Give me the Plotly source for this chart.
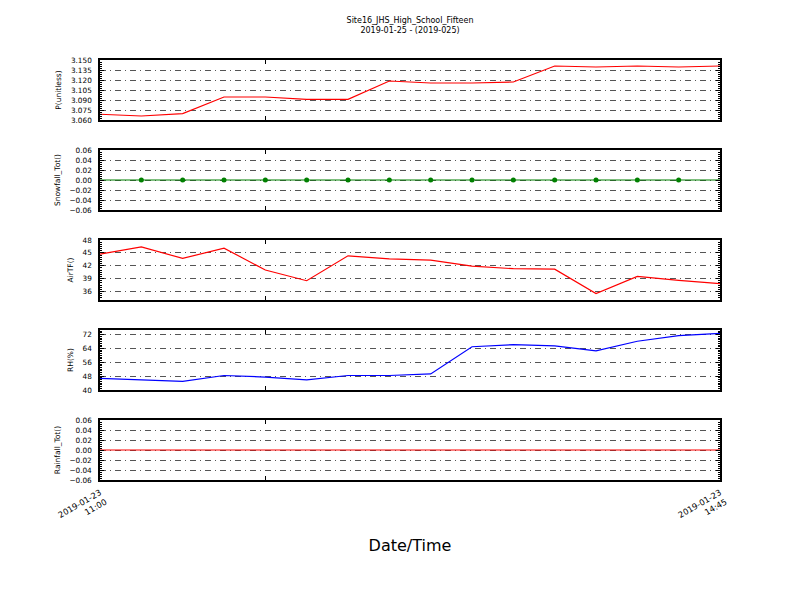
import plotly.graph_objects as go
from plotly.subplots import make_subplots

times = ["2019-01-23 11:00", "2019-01-23 11:15", "2019-01-23 11:30", "2019-01-23 11:45",
         "2019-01-23 12:00", "2019-01-23 12:15", "2019-01-23 12:30", "2019-01-23 12:45",
         "2019-01-23 13:00", "2019-01-23 13:15", "2019-01-23 13:30", "2019-01-23 13:45",
         "2019-01-23 14:00", "2019-01-23 14:15", "2019-01-23 14:30", "2019-01-23 14:45"]
pressure = [3.0686, 3.066, 3.0695, 3.0945, 3.0945, 3.091, 3.091, 3.1185,
            3.1155, 3.1155, 3.117, 3.141, 3.1395, 3.141, 3.1395, 3.141]
snowfall = [0.0] * 16
airtf = [44.7, 46.4, 43.7, 46.1, 41.0, 38.5, 44.3, 43.6,
         43.3, 41.9, 41.3, 41.2, 35.5, 39.5, 38.6, 37.8]
rh = [46.7, 45.8, 45.0, 48.4, 47.5, 45.8, 48.4, 48.4,
      49.3, 65.0, 66.2, 65.5, 62.6, 68.2, 71.4, 72.8]
rainfall = [0.0] * 16

ylabels = ["P(unitless)", "Snowfall_Tot()", "AirTF()", "RH(%)", "Rainfall_Tot()"]
yticks = [
    [3.060, 3.075, 3.090, 3.105, 3.120, 3.135, 3.150],
    [-0.06, -0.04, -0.02, 0.00, 0.02, 0.04, 0.06],
    [36, 39, 42, 45, 48],
    [40, 48, 56, 64, 72],
    [-0.06, -0.04, -0.02, 0.00, 0.02, 0.04, 0.06],
]
yticktext = [
    ["3.060", "3.075", "3.090", "3.105", "3.120", "3.135", "3.150"],
    ["\u22120.06", "\u22120.04", "\u22120.02", "0.00", "0.02", "0.04", "0.06"],
    ["36", "39", "42", "45", "48"],
    ["40", "48", "56", "64", "72"],
    ["\u22120.06", "\u22120.04", "\u22120.02", "0.00", "0.02", "0.04", "0.06"],
]
yranges = [[3.06, 3.15], [-0.06, 0.06], [34, 48], [40, 74.7], [-0.06, 0.06]]
minor_dt = [0.003, 0.004, 0.5, 1, 0.004]

xtickvals = ["2019-01-23 11:00", "2019-01-23 12:00", "2019-01-23 14:45"]
xticktext = ["2019-01-23<br>11:00", "", "2019-01-23<br>14:45"]

fig = make_subplots(rows=5, cols=1, shared_xaxes=False, vertical_spacing=30 / 420)

font = "DejaVu Sans, Arial, sans-serif"

fig.add_trace(go.Scatter(x=times, y=pressure, mode="lines",
                         line=dict(color="red", width=1.2)), row=1, col=1)
fig.add_trace(go.Scatter(x=times, y=snowfall, mode="lines",
                         line=dict(color="green", width=1.2)), row=2, col=1)
fig.add_trace(go.Scatter(x=times[1:-1], y=snowfall[1:-1], mode="markers",
                         marker=dict(color="green", size=5)), row=2, col=1)
fig.add_trace(go.Scatter(x=times, y=airtf, mode="lines",
                         line=dict(color="red", width=1.2)), row=3, col=1)
fig.add_trace(go.Scatter(x=times, y=rh, mode="lines",
                         line=dict(color="blue", width=1.2)), row=4, col=1)
fig.add_trace(go.Scatter(x=times, y=rainfall, mode="lines",
                         line=dict(color="red", width=1.2)), row=5, col=1)

for i in range(5):
    r = i + 1
    fig.update_yaxes(
        row=r, col=1,
        range=yranges[i], tickvals=yticks[i], ticktext=yticktext[i],
        showgrid=True, gridcolor="#555555", griddash="6px,4px,1px,4px", gridwidth=0.7,
        zeroline=False, showline=True, linecolor="black", linewidth=1.5,
        mirror="allticks", ticks="inside", ticklen=4, tickcolor="black",
        minor=dict(ticks="inside", ticklen=2, tickcolor="black", dtick=minor_dt[i],
                   showgrid=False),
        tickfont=dict(family=font, size=7.3, color="black"),
        ticklabelstandoff=5,
        title=dict(text=ylabels[i], font=dict(family=font, size=7.5, color="black"),
                   standoff=8),
        automargin=False,
    )
    fig.update_xaxes(
        row=r, col=1,
        range=[times[0], times[-1]],
        tickvals=xtickvals, ticktext=xticktext if r == 5 else ["", "", ""],
        showticklabels=(r == 5),
        showgrid=False, zeroline=False, showline=True, linecolor="black", linewidth=1.5,
        mirror="allticks", ticks="inside", ticklen=4, tickcolor="black",
        tickangle=-30, tickfont=dict(family=font, size=8.3, color="black"),
        ticklabelstandoff=3,
        automargin=False,
    )

fig.update_xaxes(row=5, col=1,
                 title=dict(text="Date/Time", font=dict(family=font, size=16, color="black"),
                            standoff=11))

fig.update_layout(
    width=800, height=600,
    margin=dict(l=92, r=88, t=52, b=128),
    paper_bgcolor="white", plot_bgcolor="white",
    showlegend=False,
    title=dict(text="Site16_JHS_High_School_Fifteen<br>2019-01-25 - (2019-025)",
               x=(92 + 310) / 800, xanchor="center", y=0.975, yanchor="top",
               font=dict(family=font, size=8, color="black")),
)

fig.write_html("out.html")
